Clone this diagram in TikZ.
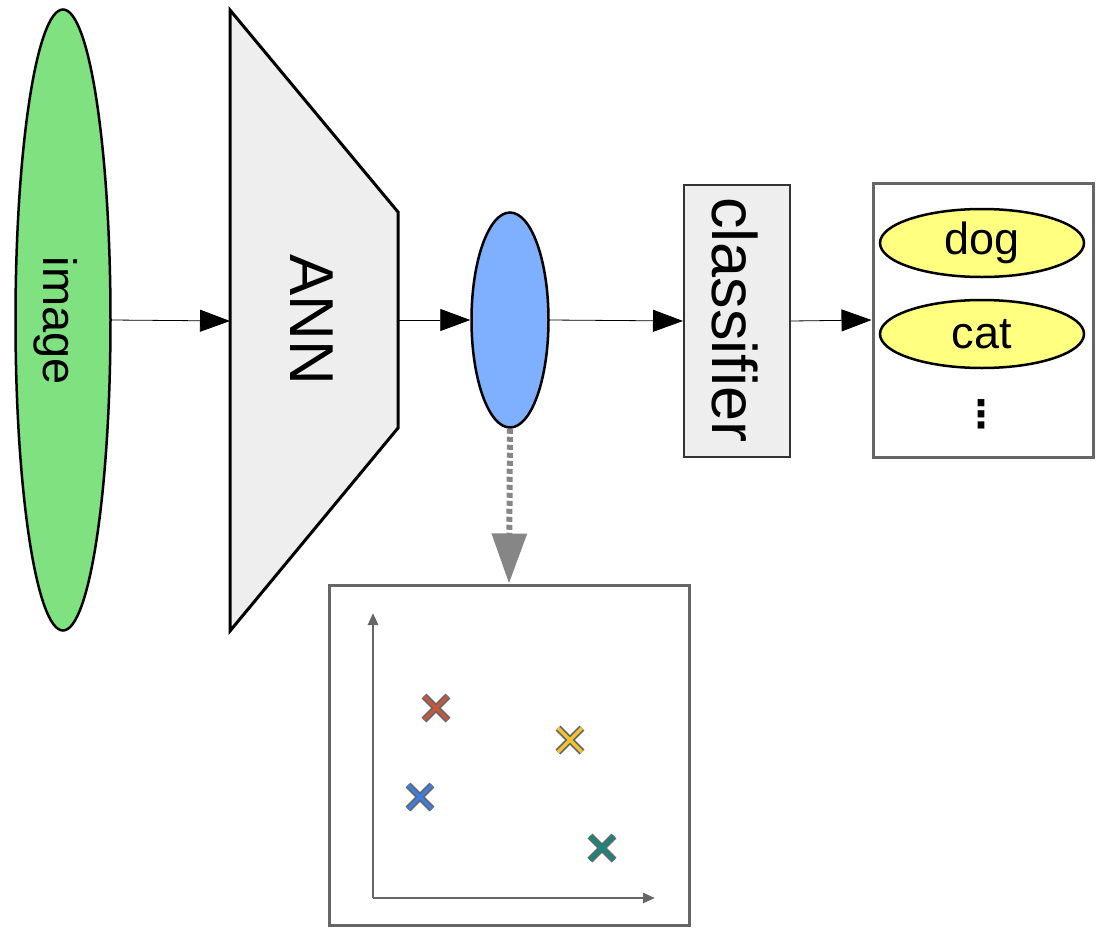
\documentclass[tikz,border=0pt]{standalone}
\usepackage{fontspec}
\setmainfont{Liberation Sans}
\newfontfamily\symfont{DejaVu Sans}
\usetikzlibrary{arrows.meta,shapes.geometric}
\definecolor{imggreen}{HTML}{7FE17F}
\definecolor{featblue}{HTML}{7FB0FF}
\definecolor{boxgray}{HTML}{EEEEEE}
\definecolor{labyellow}{HTML}{FFFF80}
\definecolor{framegray}{HTML}{666666}
\definecolor{crossred}{HTML}{C4573E}
\definecolor{crossyellow}{HTML}{F2C231}
\definecolor{crossblue}{HTML}{3E7DE0}
\definecolor{crossteal}{HTML}{13897A}
\begin{document}
\begin{tikzpicture}[x=1pt,y=-1pt,
  flow/.style={draw=black,line width=0.8pt,-{Triangle[length=30pt,width=22pt]}},
  blob/.style={ellipse,draw=black,line width=2.5pt,inner sep=0pt},
  frame/.style={draw=framegray,line width=3pt},
  axis/.style={draw=framegray,line width=2.5pt,-{Triangle[length=12pt,width=10pt]}},
  mark cross/.style={line width=7pt,draw=framegray},
]
\useasboundingbox (0,0) rectangle (1103,929);

% input image
\node[blob,fill=imggreen,minimum width=95pt,minimum height=621pt] (img) at (63,320) {};
\node[rotate=-90,font=\fontsize{47}{47}\selectfont] at (56,321) {image};

% network trapezoid
\draw[fill=boxgray,line width=3pt,line join=miter] (230,10) -- (398,212) -- (398,428) -- (230,631) -- cycle;
\coordinate (annL) at (230,321);
\coordinate (annR) at (398,320);
\node[rotate=-90,font=\fontsize{62}{62}\selectfont] (ann) at (312,320) {ANN};

% feature vector
\node[blob,fill=featblue,minimum width=77pt,minimum height=215pt] (feat) at (510,320) {};

% classifier
\node[draw=black!80,fill=boxgray,line width=2pt,minimum width=106pt,minimum height=272pt,inner sep=0pt] (cls) at (737,321) {};
\node[rotate=-90,font=\fontsize{63}{63}\selectfont] at (735,320) {classifier};

% label list
\node[frame,minimum width=220pt,minimum height=274pt,inner sep=0pt] (out) at (983,320) {};
\node[blob,fill=labyellow,minimum width=204pt,minimum height=68pt,font=\fontsize{45}{45}\selectfont] (dog) at (982,243) {dog};
\node[blob,fill=labyellow,minimum width=204pt,minimum height=68pt,font=\fontsize{45}{45}\selectfont] (cat) at (982,334) {cat};
\node[inner sep=0pt,font=\fontsize{38}{38}\symfont\bfseries] (dots) at (981,414) {⋮};

% main flow
\draw[flow] (img.east) -- (annL);
\draw[flow] (annR) -- (feat.west);
\draw[flow] (feat.east) -- (cls.west);
\draw[flow] (cls.east) -- (out.west);

% embedding plot
\node[frame,minimum width=360pt,minimum height=340pt,inner sep=0pt] (plot) at (509,755) {};
\draw[draw=gray!95,line width=6pt,dash pattern=on 5pt off 3pt,-{Triangle[length=50pt,width=34pt]}] (feat.south) -- (plot.north);

\coordinate (origin) at (373,898);
\coordinate (ytop) at (373,613);
\coordinate (xend) at (655,898);
\draw[axis] (origin) -- (ytop);
\draw[axis] (origin) -- (xend);

\foreach \cx/\cy/\col in {436/708/crossred,570/740/crossyellow,420/797/crossblue,602/848/crossteal}{
  \draw[mark cross] (\cx-12,\cy-12) -- (\cx+12,\cy+12) (\cx-12,\cy+12) -- (\cx+12,\cy-12);
  \draw[line width=3.5pt,draw=\col] (\cx-12,\cy-12) -- (\cx+12,\cy+12) (\cx-12,\cy+12) -- (\cx+12,\cy-12);
}
\end{tikzpicture}
\end{document}
